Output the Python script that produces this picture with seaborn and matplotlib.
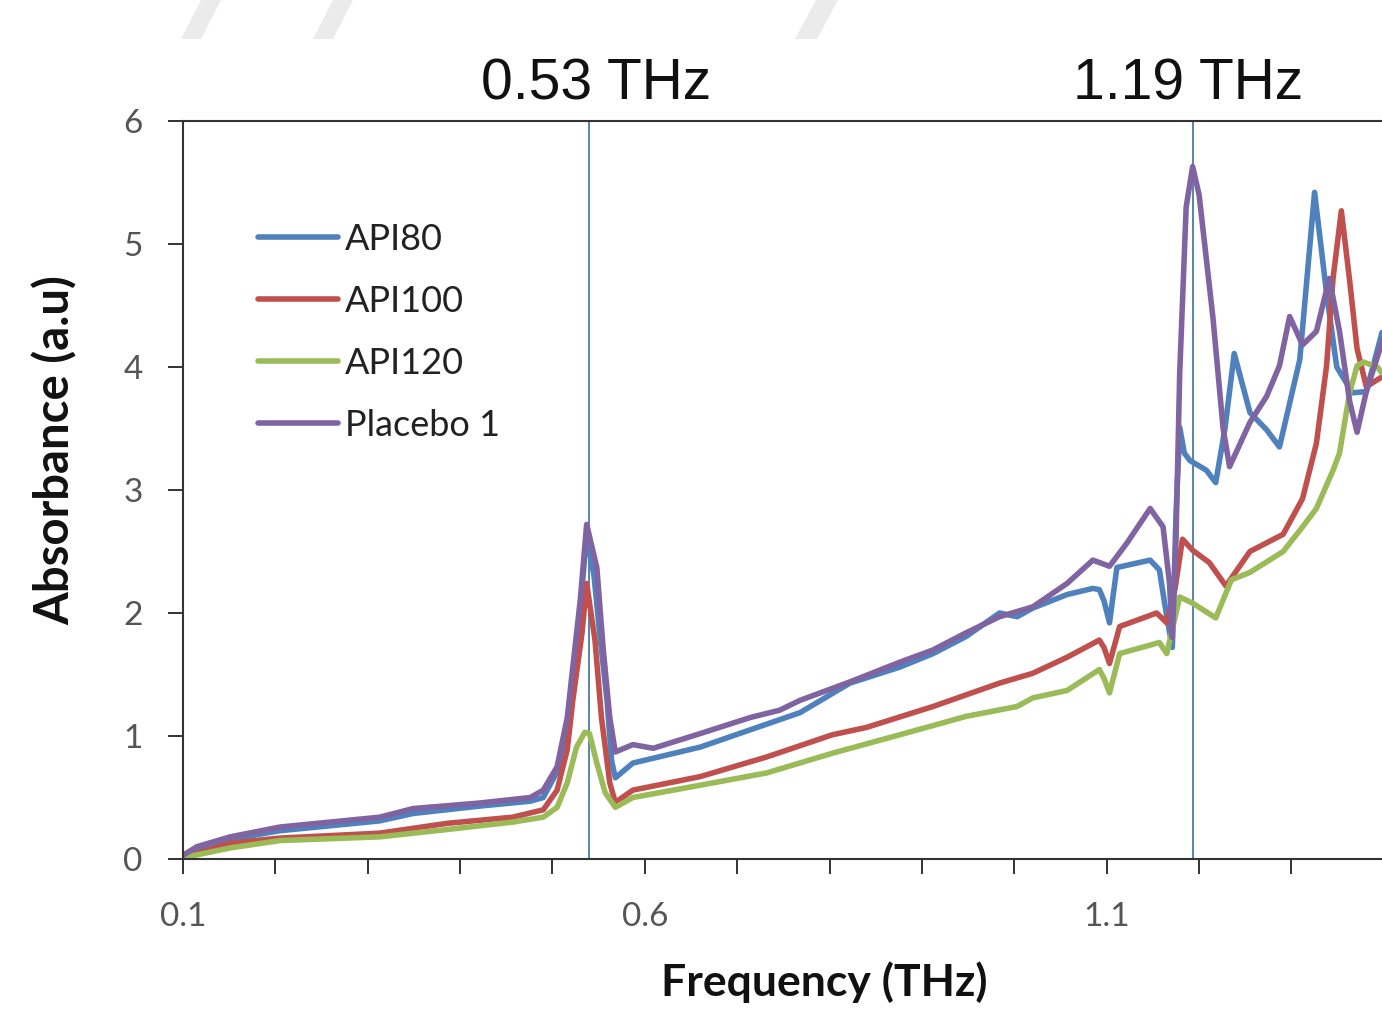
import numpy as np
import pandas as pd
import matplotlib
matplotlib.use("Agg")
import matplotlib.pyplot as plt
import seaborn as sns
from matplotlib.patches import Polygon
from matplotlib.ticker import FixedLocator, FuncFormatter

# ---------------- data ----------------
series_names = ["API80", "API100", "API120", "Placebo 1"]
series_colors = ["#4F81BD", "#C0504D", "#9BBB59", "#8064A2"]

api80_freq = [0.100, 0.115, 0.151, 0.205, 0.259, 0.313, 0.349, 0.421, 0.476, 0.490,
              0.505, 0.516, 0.522, 0.530, 0.537, 0.545, 0.551, 0.559, 0.564, 0.568,
              0.587, 0.660, 0.714, 0.768, 0.822, 0.876, 0.912, 0.948, 0.984, 1.003,
              1.020, 1.057, 1.085, 1.092, 1.097, 1.103, 1.111, 1.147, 1.157, 1.165,
              1.171, 1.175, 1.179, 1.184, 1.190, 1.208, 1.218, 1.228, 1.238, 1.255,
              1.273, 1.287, 1.309, 1.325, 1.338, 1.349, 1.366, 1.381, 1.398]
api80_abs = [0.03, 0.08, 0.16, 0.23, 0.27, 0.31, 0.37, 0.43, 0.47, 0.50,
             0.71, 1.09, 1.50, 2.04, 2.63, 2.30, 1.84, 1.29, 0.80, 0.66,
             0.78, 0.91, 1.05, 1.19, 1.43, 1.56, 1.67, 1.81, 2.00, 1.97,
             2.04, 2.15, 2.20, 2.19, 2.10, 1.92, 2.37, 2.43, 2.35, 1.97,
             1.72, 2.80, 3.51, 3.30, 3.24, 3.16, 3.06, 3.50, 4.11, 3.63,
             3.49, 3.35, 4.06, 5.42, 4.60, 4.00, 3.79, 3.80, 4.28]

api100_freq = [0.100, 0.151, 0.205, 0.313, 0.386, 0.457, 0.490, 0.505, 0.516, 0.522,
               0.532, 0.537, 0.546, 0.553, 0.562, 0.568, 0.587, 0.660, 0.732, 0.803,
               0.840, 0.912, 0.984, 1.020, 1.057, 1.092, 1.097, 1.103, 1.114, 1.154,
               1.165, 1.174, 1.182, 1.193, 1.211, 1.229, 1.255, 1.291, 1.312, 1.327,
               1.338, 1.345, 1.354, 1.363, 1.371, 1.381, 1.398]
api100_abs = [0.01, 0.13, 0.17, 0.21, 0.29, 0.34, 0.40, 0.56, 0.89, 1.29,
              1.84, 2.24, 1.78, 1.15, 0.62, 0.46, 0.56, 0.67, 0.83, 1.01,
              1.07, 1.24, 1.43, 1.51, 1.64, 1.78, 1.72, 1.59, 1.89, 2.00,
              1.92, 2.20, 2.60, 2.51, 2.41, 2.22, 2.50, 2.64, 2.93, 3.38,
              4.01, 4.72, 5.27, 4.70, 4.15, 3.84, 3.92]

api120_freq = [0.100, 0.151, 0.205, 0.313, 0.386, 0.457, 0.490, 0.505, 0.516, 0.526,
               0.535, 0.540, 0.548, 0.557, 0.568, 0.587, 0.660, 0.732, 0.803, 0.876,
               0.948, 1.003, 1.020, 1.057, 1.092, 1.097, 1.103, 1.114, 1.157, 1.165,
               1.179, 1.193, 1.218, 1.235, 1.255, 1.291, 1.312, 1.327, 1.345, 1.352,
               1.363, 1.371, 1.378, 1.393, 1.398]
api120_abs = [0.01, 0.09, 0.15, 0.18, 0.24, 0.30, 0.34, 0.42, 0.62, 0.91,
              1.03, 1.02, 0.78, 0.54, 0.42, 0.50, 0.60, 0.70, 0.86, 1.01,
              1.16, 1.24, 1.31, 1.37, 1.54, 1.47, 1.35, 1.67, 1.76, 1.67,
              2.13, 2.08, 1.96, 2.27, 2.33, 2.50, 2.70, 2.85, 3.16, 3.30,
              3.79, 4.01, 4.04, 4.00, 3.95]

placebo_freq = [0.100, 0.115, 0.151, 0.205, 0.259, 0.313, 0.349, 0.421, 0.476, 0.490,
                0.505, 0.516, 0.522, 0.530, 0.537, 0.548, 0.555, 0.562, 0.568, 0.587,
                0.609, 0.660, 0.714, 0.746, 0.768, 0.822, 0.876, 0.912, 0.948, 0.984,
                1.020, 1.057, 1.085, 1.103, 1.122, 1.147, 1.161, 1.168, 1.171, 1.175,
                1.179, 1.186, 1.193, 1.200, 1.215, 1.226, 1.233, 1.255, 1.273, 1.287,
                1.298, 1.312, 1.327, 1.341, 1.352, 1.363, 1.371, 1.381, 1.398]
placebo_abs = [0.03, 0.10, 0.18, 0.26, 0.30, 0.34, 0.41, 0.455, 0.50, 0.56,
               0.75, 1.15, 1.56, 2.10, 2.72, 2.37, 1.70, 1.15, 0.87, 0.93,
               0.90, 1.02, 1.15, 1.21, 1.29, 1.44, 1.60, 1.70, 1.84, 1.97,
               2.05, 2.24, 2.43, 2.38, 2.57, 2.85, 2.70, 2.24, 1.80, 2.60,
               3.95, 5.30, 5.63, 5.40, 4.40, 3.50, 3.19, 3.55, 3.76, 4.01,
               4.41, 4.18, 4.29, 4.72, 4.29, 3.72, 3.47, 3.80, 4.20]

peak_freqs = [0.539, 1.193]
peak_labels = ["0.53 THz", "1.19 THz"]
peak_label_x = [0.547, 1.188]

x_ticks = [0.1, 0.2, 0.3, 0.4, 0.5, 0.6, 0.7, 0.8, 0.9, 1.0, 1.1, 1.2, 1.3]
x_labeled = [0.1, 0.6, 1.1]
y_ticks = [0, 1, 2, 3, 4, 5, 6]

# ---------------- long table for seaborn ----------------
frames = []
for name, f, a in [("API80", api80_freq, api80_abs),
                   ("API100", api100_freq, api100_abs),
                   ("API120", api120_freq, api120_abs),
                   ("Placebo 1", placebo_freq, placebo_abs)]:
    frames.append(pd.DataFrame({"freq": f, "absorbance": a, "sample": name}))
df = pd.concat(frames, ignore_index=True)

# ---------------- figure ----------------
sns.set_theme(style="white")
plt.rcParams["font.family"] = ["Lato", "DejaVu Sans"]

fig = plt.figure(figsize=(13.82, 10.10), dpi=100)
ax = fig.add_axes([183 / 1382, 151 / 1010, 1199 / 1382, 738 / 1010])

# faint watermark stripes at the top
for xs in [(181, 201, 221, 201), (313, 333, 353, 333), (795, 817, 838, 816)]:
    pts = [(xs[0] / 1382, 1 - 39 / 1010), (xs[1] / 1382, 1 - 39 / 1010),
           (xs[2] / 1382, 1.0), (xs[3] / 1382, 1.0)]
    fig.patches.append(Polygon(pts, closed=True, transform=fig.transFigure,
                               facecolor="#ebebeb", edgecolor="none", zorder=0))

sns.lineplot(data=df, x="freq", y="absorbance", hue="sample",
             hue_order=series_names, palette=series_colors,
             estimator=None, linewidth=4.0, ax=ax)
for line in ax.get_lines():
    line.set_solid_joinstyle("round")
    line.set_solid_capstyle("round")

for xv in peak_freqs:
    ax.axvline(xv, color="#4a7ba7", linewidth=1.3, zorder=1)

for xl, txt in zip(peak_label_x, peak_labels):
    ax.text(xl, 1.049, txt, transform=ax.get_xaxis_transform(),
            ha="center", va="center", fontsize=41,
            family=["Liberation Sans", "DejaVu Sans"], color="#111111")

ax.set_xlim(0.1, 1.398)
ax.set_ylim(0, 6)

ax.xaxis.set_major_locator(FixedLocator(x_ticks))
ax.xaxis.set_major_formatter(FuncFormatter(
    lambda v, p: f"{v:.1f}" if any(abs(v - t) < 1e-6 for t in x_labeled) else ""))
ax.yaxis.set_major_locator(FixedLocator(y_ticks))

ax.tick_params(axis="x", direction="out", length=11, width=1.4, pad=20,
               labelsize=24, labelcolor="#555555", color="#333333", bottom=True)
ax.tick_params(axis="y", direction="out", length=11, width=1.4, pad=18,
               labelsize=24, labelcolor="#555555", color="#333333", left=True)

for side in ["left", "bottom", "top"]:
    ax.spines[side].set_color("#333333")
    ax.spines[side].set_linewidth(1.5)
ax.spines["right"].set_visible(False)

ax.set_xlabel("Frequency (THz)", fontsize=32, fontweight="bold", color="#111111")
ax.set_ylabel("Absorbance (a.u)", fontsize=34, fontweight="bold", color="#111111")
ax.xaxis.set_label_coords(0.535, -0.139)
ax.yaxis.set_label_coords(-0.088, 0.554)

handles, labels = ax.get_legend_handles_labels()
leg = ax.legend(handles, labels, loc="upper left", bbox_to_anchor=(0.0626, 0.862),
                frameon=False, fontsize=26, handlelength=2.2, handletextpad=0.2,
                labelspacing=0.8, borderpad=0, borderaxespad=0)
for line in leg.get_lines():
    line.set_linewidth(4.0)
for t in leg.get_texts():
    t.set_color("#222222")

fig.savefig("out.png", dpi=100)
